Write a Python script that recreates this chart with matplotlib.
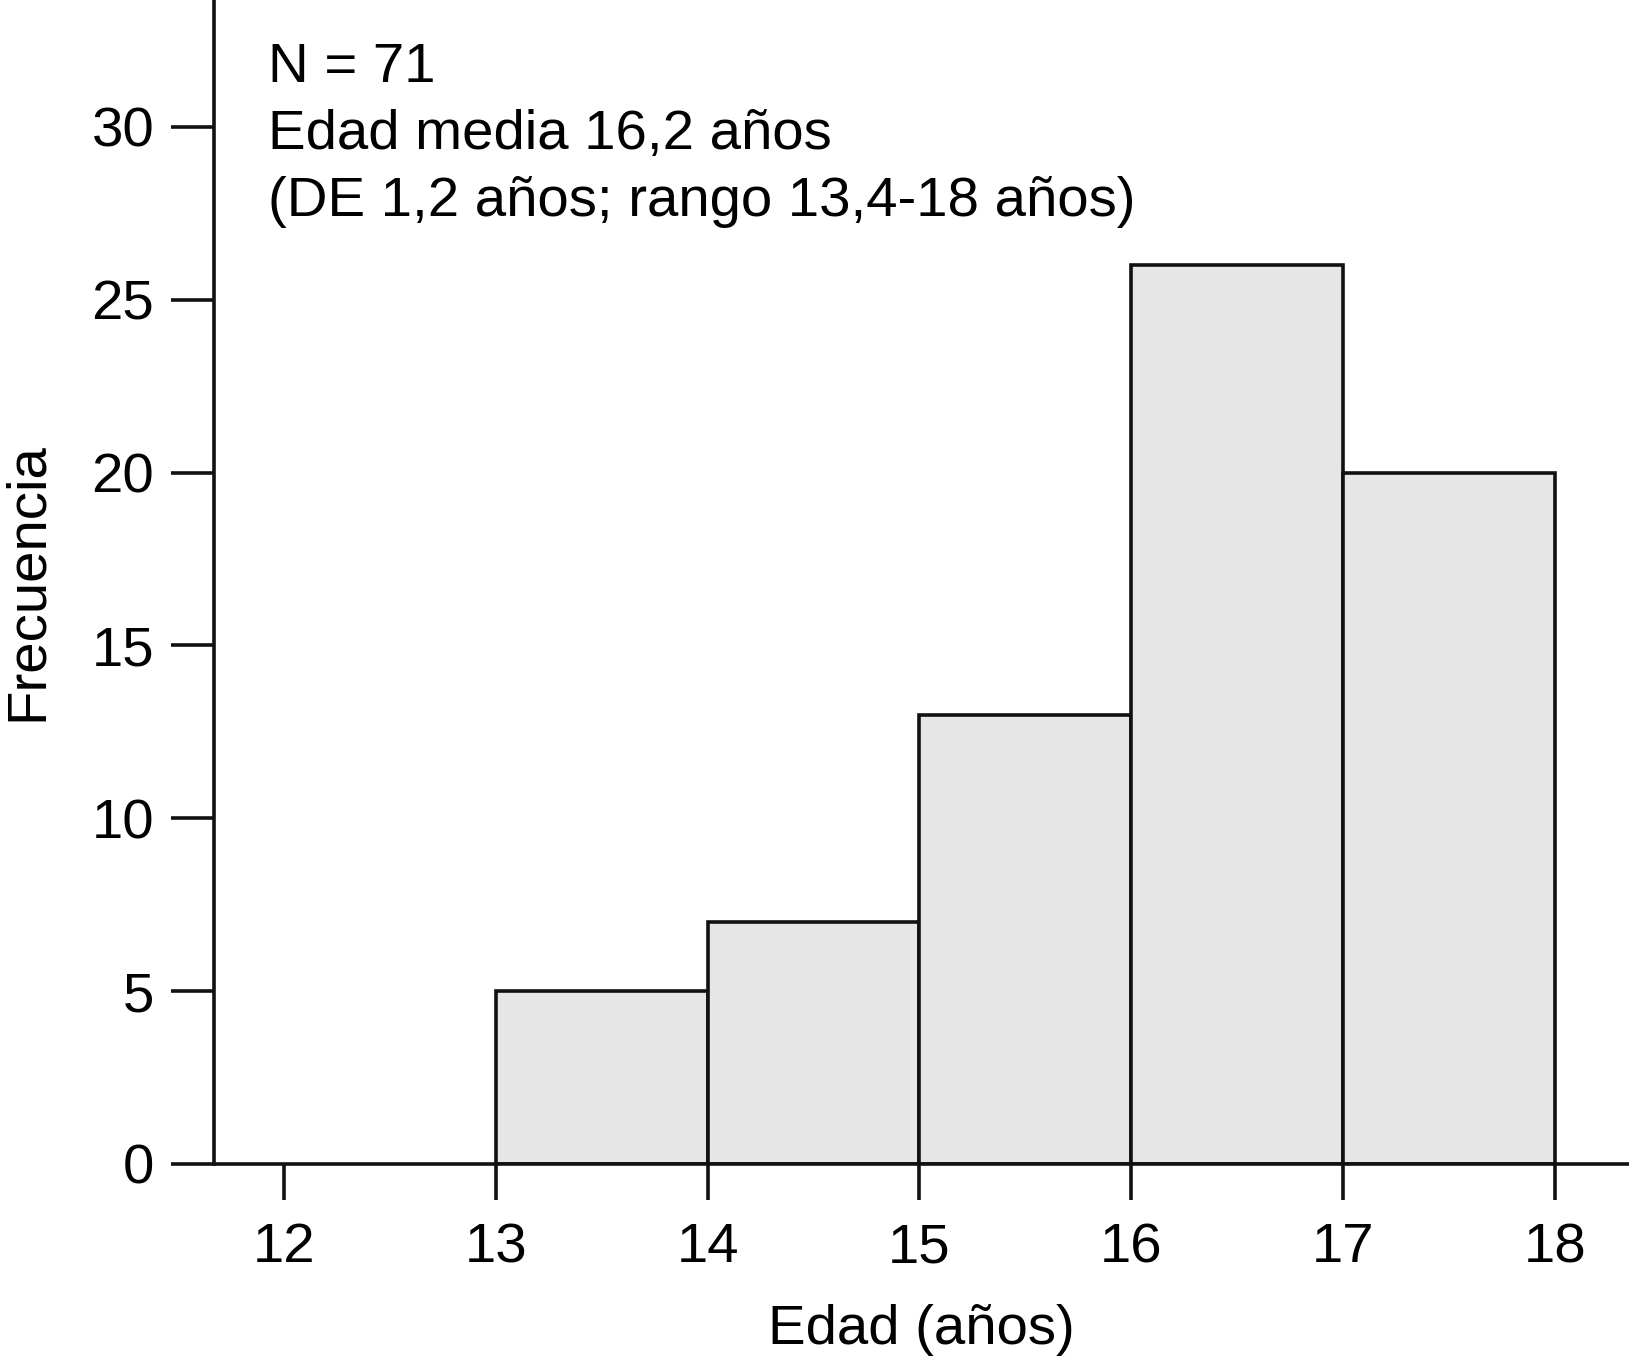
import matplotlib
matplotlib.use("Agg")
import matplotlib.pyplot as plt

edades = [13, 14, 15, 16, 17]
frecuencias = [5, 7, 13, 26, 20]
xticks = [12, 13, 14, 15, 16, 17, 18]
yticks = [0, 5, 10, 15, 20, 25, 30]
lineas_texto = ["N = 71", "Edad media 16,2 años", "(DE 1,2 años; rango 13,4-18 años)"]

plt.rcParams['font.family'] = ['Liberation Sans', 'DejaVu Sans']

W, H = 1629, 1367
fs = 40.6
lw = 2.6
fig = plt.figure(figsize=(W / 100, H / 100), dpi=100)
ax = fig.add_axes([214 / W, 1 - 1164 / H, 1 - 214 / W, 1164 / H])

ax.bar(edades, frecuencias, width=1, align='edge', color='#e6e6e6',
       edgecolor='#111111', linewidth=lw, zorder=2)

ax.set_xlim(11.67, 18.35)
ax.set_ylim(0, 33.67)
ax.set_xticks(xticks)
ax.set_yticks(yticks)
ax.spines['top'].set_visible(False)
ax.spines['right'].set_visible(False)
for s in ['left', 'bottom']:
    ax.spines[s].set_linewidth(lw)
    ax.spines[s].set_color('#111111')
    ax.spines[s].set_zorder(3)
ax.tick_params(axis='y', length=31, width=lw, color='#111111', labelsize=fs, pad=12)
ax.tick_params(axis='x', length=26, width=lw, color='#111111', labelsize=fs, pad=16)

ax.set_ylabel("Frecuencia", fontsize=fs)
ax.yaxis.set_label_coords(-186 / 1415, 0.5)
ax.set_xlabel("Edad (años)", fontsize=fs)
ax.xaxis.set_label_coords((921 - 214) / 1415, -(1330 - 1164) / 1164)
ax.xaxis.label.set_va('center')
ax.yaxis.label.set_va('center')

for i, t in enumerate(lineas_texto):
    fig.text(268 / W, 1 - (68 + 67 * i) / H, t, fontsize=fs, va='center', ha='left')

fig.savefig("out.png", dpi=100)
